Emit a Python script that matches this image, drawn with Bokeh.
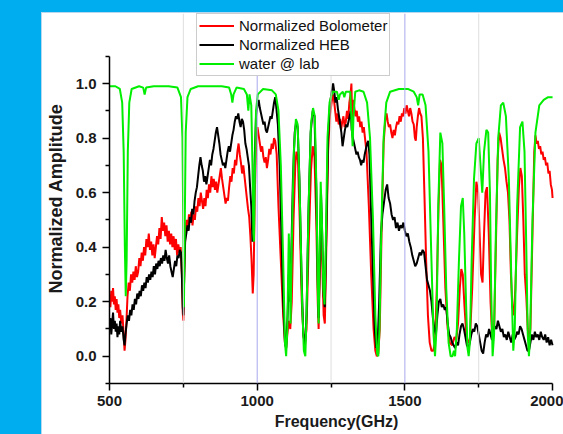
from bokeh.plotting import figure
from bokeh.models import Range1d, FixedTicker, NumeralTickFormatter, Span, Legend, LegendItem, Spacer
from bokeh.layouts import column, row
from bokeh.embed import file_html
from bokeh.resources import INLINE

# ---------------- data ----------------
water_freq = [500, 520, 535, 543, 548, 552, 555, 558, 562, 567, 575, 600, 614, 619, 624, 650, 700, 730,
              742, 747, 750, 752, 754, 758, 764, 775, 800, 880, 905, 912, 916, 920, 930, 955, 965, 970,
              974, 980, 984, 987, 989, 992, 996, 1002, 1020, 1050, 1063, 1072, 1080, 1088, 1094, 1098,
              1102, 1107, 1110, 1113, 1117, 1124, 1131, 1137, 1144, 1152, 1158, 1163, 1167, 1174, 1182,
              1189, 1195, 1201, 1205, 1208, 1211, 1215, 1219, 1224, 1228, 1232, 1238, 1245, 1255, 1270,
              1276, 1280, 1290, 1295, 1300, 1315, 1320, 1323, 1326, 1332, 1345, 1360, 1372, 1382, 1392,
              1400, 1406, 1410, 1414, 1420, 1428, 1437, 1450, 1480, 1510, 1530, 1540, 1545, 1550, 1560,
              1570, 1580, 1590, 1597, 1602, 1607, 1613, 1620, 1627, 1633, 1640, 1648, 1655, 1661, 1666,
              1670, 1676, 1683, 1690, 1696, 1701, 1707, 1712, 1716, 1720, 1726, 1734, 1742, 1750, 1756,
              1762, 1768, 1776, 1782, 1788, 1792, 1797, 1802, 1808, 1816, 1825, 1833, 1842, 1852, 1860,
              1867, 1872, 1880, 1890, 1898, 1905, 1911, 1916, 1920, 1924, 1932, 1942, 1955, 1970, 1985,
              1995, 2000]
water_amp = [0.99, 0.99, 0.98, 0.93, 0.75, 0.40, 0.22, 0.35, 0.75, 0.93, 0.98, 0.99, 0.985, 0.96, 0.985, 0.99, 0.99, 0.985,
             0.95, 0.80, 0.45, 0.18, 0.40, 0.82, 0.95, 0.98, 0.99, 0.99, 0.985, 0.96, 0.93, 0.96, 0.985, 0.98, 0.96, 0.90,
             0.96, 0.92, 0.70, 0.45, 0.42, 0.65, 0.90, 0.96, 0.98, 0.975, 0.96, 0.90, 0.70, 0.35, 0.05, 0.00,
             0.10, 0.45, 0.30, 0.12, 0.40, 0.75, 0.87, 0.85, 0.60, 0.20, 0.02, 0.00, 0.15, 0.55, 0.85,
             0.91, 0.88, 0.60, 0.25, 0.12, 0.35, 0.64, 0.50, 0.25, 0.19, 0.40, 0.80, 0.93, 0.97, 0.97,
             0.94, 0.96, 0.97, 0.95, 0.97, 0.97, 0.85, 0.77, 0.88, 0.97, 0.975, 0.97, 0.93, 0.80, 0.50,
             0.15, 0.01, 0.00, 0.10, 0.45, 0.80, 0.93, 0.97, 0.98, 0.98, 0.97, 0.95, 0.92, 0.96, 0.96,
             0.92, 0.75, 0.35, 0.08, 0.00, 0.10, 0.55, 0.82, 0.78, 0.55, 0.25, 0.05, 0.00, 0.00, 0.02,
             0.00, 0.10, 0.35, 0.55, 0.58, 0.45, 0.20, 0.03, 0.00, 0.05, 0.35, 0.65, 0.78, 0.80, 0.70,
             0.60, 0.75, 0.83, 0.82, 0.60, 0.25, 0.00, 0.08, 0.45, 0.80, 0.92, 0.93, 0.88, 0.65, 0.30,
             0.02, 0.10, 0.55, 0.84, 0.86, 0.75, 0.40, 0.08, 0.00, 0.08, 0.50, 0.82, 0.92, 0.94, 0.95,
             0.95, 0.95]

bolo_freq = [500, 503, 506, 509, 512, 515, 518, 521, 524, 527, 530, 533, 536, 540, 544, 548, 551, 554, 557, 561,
             565, 569, 573, 577, 581, 585, 589, 593, 597, 601, 605, 609, 613, 617, 621, 625, 629, 633, 637, 641,
             645, 649, 653, 657, 661, 665, 669, 673, 677, 681, 685, 689, 693, 697, 701, 705, 709, 713, 717, 721,
             725, 729, 733, 737, 741, 745, 748, 750, 753, 757, 761, 765, 769, 773, 777, 781, 785, 789, 793, 797,
             801, 805, 809, 813, 817, 821, 825, 829, 833, 837, 841, 845, 849, 853, 857, 861, 865, 869, 873, 877,
             881, 885, 889, 893, 897, 901, 905, 909, 913, 917, 921, 925, 929, 933, 937, 941, 945, 949, 953, 957,
             961, 965, 969, 973, 977, 981, 985, 988, 992, 997, 1001, 1005, 1009, 1013, 1017, 1021, 1025, 1029, 1033, 1037,
             1041, 1045, 1049, 1053, 1057, 1061, 1066, 1072, 1080, 1088, 1094, 1098, 1102, 1107, 1112, 1117, 1123, 1129, 1133, 1138,
             1144, 1151, 1157, 1162, 1167, 1174, 1182, 1188, 1194, 1200, 1205, 1208, 1212, 1216, 1220, 1225, 1229, 1234, 1240, 1246,
             1252, 1256, 1260, 1264, 1268, 1272, 1276, 1280, 1284, 1288, 1292, 1296, 1300, 1304, 1308, 1312, 1316, 1319, 1322, 1325,
             1329, 1333, 1337, 1341, 1345, 1349, 1353, 1357, 1361, 1365, 1370, 1378, 1386, 1394, 1400, 1405, 1410, 1415, 1421, 1428,
             1434, 1438, 1442, 1446, 1450, 1454, 1458, 1462, 1466, 1470, 1474, 1478, 1482, 1486, 1490, 1494, 1498, 1502, 1506, 1510,
             1514, 1518, 1522, 1526, 1530, 1534, 1537, 1540, 1544, 1548, 1552, 1556, 1561, 1566, 1572, 1578, 1584, 1590, 1596, 1602,
             1608, 1614, 1619, 1624, 1630, 1637, 1645, 1652, 1660, 1668, 1674, 1680, 1686, 1691, 1696, 1702, 1708, 1714, 1720, 1728,
             1736, 1742, 1748, 1753, 1758, 1763, 1768, 1773, 1778, 1784, 1790, 1796, 1802, 1808, 1814, 1819, 1824, 1829, 1834, 1839,
             1844, 1849, 1854, 1859, 1864, 1869, 1874, 1880, 1886, 1891, 1896, 1901, 1906, 1911, 1916, 1920, 1925, 1932, 1938, 1942,
             1946, 1950, 1954, 1958, 1962, 1966, 1970, 1974, 1978, 1982, 1986, 1990, 1994, 1998, 2000]
bolo_amp = [0.22, 0.18, 0.24, 0.20, 0.25, 0.19, 0.22, 0.17, 0.21, 0.16, 0.19, 0.14, 0.17, 0.12, 0.15, 0.08, 0.02, 0.06, 0.12, 0.22,
            0.27, 0.24, 0.30, 0.27, 0.31, 0.28, 0.33, 0.29, 0.31, 0.36, 0.33, 0.38, 0.35, 0.40, 0.37, 0.43, 0.40, 0.45, 0.39, 0.42,
            0.37, 0.41, 0.36, 0.40, 0.44, 0.41, 0.47, 0.43, 0.51, 0.46, 0.49, 0.44, 0.48, 0.42, 0.46, 0.41, 0.45, 0.40, 0.44, 0.39,
            0.43, 0.37, 0.41, 0.38, 0.40, 0.30, 0.16, 0.13, 0.30, 0.47, 0.50, 0.46, 0.52, 0.49, 0.53, 0.48, 0.52, 0.50, 0.55, 0.53,
            0.58, 0.55, 0.60, 0.57, 0.54, 0.58, 0.55, 0.61, 0.58, 0.63, 0.60, 0.66, 0.62, 0.65, 0.61, 0.64, 0.60, 0.63, 0.66, 0.69,
            0.65, 0.62, 0.59, 0.56, 0.58, 0.57, 0.62, 0.66, 0.64, 0.69, 0.67, 0.72, 0.70, 0.75, 0.78, 0.74, 0.71, 0.67, 0.70, 0.66,
            0.62, 0.58, 0.54, 0.51, 0.44, 0.35, 0.23, 0.30, 0.60, 0.80, 0.84, 0.81, 0.78, 0.75, 0.77, 0.73, 0.71, 0.73, 0.69, 0.72,
            0.76, 0.74, 0.78, 0.76, 0.80, 0.79, 0.74, 0.55, 0.35, 0.15, 0.05, 0.03, 0.08, 0.13, 0.10, 0.20, 0.50, 0.70, 0.75, 0.72,
            0.50, 0.20, 0.07, 0.05, 0.10, 0.40, 0.68, 0.77, 0.73, 0.50, 0.20, 0.10, 0.30, 0.50, 0.35, 0.15, 0.12, 0.40, 0.75, 0.88,
            0.93, 0.96, 0.94, 0.90, 0.86, 0.89, 0.85, 0.87, 0.83, 0.86, 0.88, 0.84, 0.86, 0.90, 0.87, 0.93, 0.96, 1.00, 0.85, 0.94,
            0.91, 0.88, 0.90, 0.86, 0.88, 0.84, 0.86, 0.82, 0.84, 0.80, 0.75, 0.55, 0.30, 0.10, 0.02, 0.00, 0.01, 0.10, 0.45, 0.78,
            0.87, 0.89, 0.86, 0.84, 0.85, 0.82, 0.80, 0.83, 0.81, 0.84, 0.86, 0.85, 0.88, 0.86, 0.89, 0.88, 0.91, 0.89, 0.92, 0.90,
            0.88, 0.91, 0.89, 0.86, 0.85, 0.80, 0.79, 0.84, 0.88, 0.91, 0.89, 0.88, 0.80, 0.60, 0.35, 0.15, 0.05, 0.02, 0.02, 0.05,
            0.25, 0.55, 0.72, 0.70, 0.50, 0.25, 0.10, 0.05, 0.04, 0.07, 0.06, 0.12, 0.25, 0.32, 0.30, 0.18, 0.08, 0.05, 0.06, 0.25,
            0.50, 0.64, 0.60, 0.45, 0.30, 0.27, 0.45, 0.60, 0.62, 0.45, 0.20, 0.06, 0.10, 0.40, 0.72, 0.82, 0.80, 0.76, 0.72, 0.69,
            0.64, 0.60, 0.50, 0.30, 0.18, 0.15, 0.25, 0.45, 0.62, 0.69, 0.66, 0.50, 0.30, 0.22, 0.10, 0.05, 0.10, 0.45, 0.75, 0.81,
            0.78, 0.79, 0.76, 0.77, 0.74, 0.75, 0.72, 0.73, 0.70, 0.71, 0.67, 0.68, 0.63, 0.61, 0.58]

heb_freq = [500, 503, 506, 509, 512, 515, 518, 521, 524, 527, 530, 533, 536, 540, 544, 548, 551, 554, 558, 562,
            566, 570, 574, 578, 582, 586, 590, 594, 598, 602, 606, 610, 614, 618, 622, 626, 630, 634, 638, 642,
            646, 650, 654, 658, 662, 666, 670, 674, 678, 682, 686, 690, 694, 698, 702, 706, 710, 714, 718, 722,
            726, 730, 734, 738, 742, 745, 748, 750, 753, 756, 760, 764, 768, 772, 776, 780, 784, 788, 792, 796,
            800, 804, 808, 812, 816, 820, 824, 828, 832, 836, 840, 844, 848, 852, 856, 860, 864, 868, 872, 876,
            880, 884, 888, 892, 896, 900, 904, 908, 912, 916, 920, 924, 928, 932, 936, 940, 944, 948, 952, 956,
            960, 964, 968, 972, 976, 980, 984, 987, 991, 996, 1001, 1005, 1009, 1013, 1017, 1021, 1025, 1029, 1033, 1037,
            1041, 1045, 1049, 1053, 1057, 1061, 1065, 1070, 1076, 1082, 1088, 1094, 1098, 1103, 1107, 1111, 1115, 1121, 1127, 1132,
            1137, 1143, 1150, 1156, 1162, 1167, 1173, 1181, 1188, 1194, 1200, 1205, 1208, 1212, 1216, 1220, 1225, 1229, 1234, 1240,
            1246, 1252, 1257, 1261, 1265, 1269, 1273, 1277, 1281, 1285, 1289, 1293, 1297, 1301, 1305, 1309, 1313, 1317, 1320, 1324,
            1328, 1332, 1336, 1340, 1344, 1348, 1352, 1356, 1360, 1364, 1368, 1372, 1376, 1380, 1385, 1392, 1398, 1403, 1408, 1413,
            1419, 1424, 1430, 1435, 1440, 1445, 1450, 1455, 1460, 1465, 1470, 1475, 1480, 1485, 1490, 1495, 1500, 1505, 1510, 1515,
            1520, 1525, 1530, 1535, 1540, 1545, 1550, 1555, 1560, 1565, 1570, 1575, 1580, 1585, 1590, 1595, 1600, 1605, 1610, 1615,
            1620, 1625, 1630, 1635, 1640, 1645, 1650, 1655, 1660, 1665, 1670, 1675, 1680, 1685, 1690, 1695, 1700, 1705, 1710, 1715,
            1720, 1725, 1730, 1735, 1740, 1745, 1750, 1755, 1760, 1765, 1770, 1775, 1780, 1785, 1790, 1795, 1800, 1805, 1810, 1815,
            1820, 1825, 1830, 1835, 1840, 1845, 1850, 1855, 1860, 1865, 1870, 1875, 1880, 1885, 1890, 1895, 1900, 1905, 1910, 1915,
            1920, 1925, 1930, 1935, 1940, 1945, 1950, 1955, 1960, 1965, 1970, 1975, 1980, 1985, 1990, 1995, 2000]
heb_amp = [0.10, 0.14, 0.08, 0.12, 0.16, 0.10, 0.13, 0.09, 0.12, 0.07, 0.11, 0.08, 0.13, 0.09, 0.11, 0.06, 0.04, 0.08, 0.12, 0.15,
           0.13, 0.17, 0.15, 0.19, 0.17, 0.21, 0.19, 0.23, 0.21, 0.24, 0.22, 0.26, 0.24, 0.27, 0.25, 0.29, 0.27, 0.30, 0.28, 0.31,
           0.29, 0.33, 0.30, 0.34, 0.32, 0.35, 0.33, 0.36, 0.34, 0.37, 0.35, 0.39, 0.36, 0.34, 0.37, 0.33, 0.31, 0.29, 0.32, 0.35,
           0.33, 0.37, 0.36, 0.39, 0.38, 0.30, 0.18, 0.15, 0.30, 0.42, 0.45, 0.48, 0.46, 0.51, 0.49, 0.54, 0.52, 0.57, 0.60, 0.62,
           0.66, 0.70, 0.73, 0.70, 0.68, 0.64, 0.66, 0.63, 0.66, 0.69, 0.72, 0.70, 0.74, 0.76, 0.79, 0.82, 0.84, 0.81, 0.78, 0.74,
           0.72, 0.70, 0.71, 0.69, 0.72, 0.75, 0.77, 0.75, 0.78, 0.81, 0.83, 0.86, 0.88, 0.87, 0.89, 0.86, 0.84, 0.87, 0.86, 0.83,
           0.78, 0.76, 0.73, 0.70, 0.62, 0.55, 0.42, 0.45, 0.70, 0.88, 0.92, 0.94, 0.91, 0.89, 0.87, 0.85, 0.86, 0.83, 0.82, 0.84,
           0.86, 0.88, 0.87, 0.90, 0.93, 0.95, 0.91, 0.85, 0.70, 0.45, 0.20, 0.05, 0.03, 0.15, 0.30, 0.20, 0.35, 0.65, 0.82, 0.86,
           0.84, 0.65, 0.30, 0.08, 0.04, 0.15, 0.50, 0.82, 0.90, 0.88, 0.62, 0.28, 0.14, 0.35, 0.60, 0.45, 0.22, 0.18, 0.45, 0.80,
           0.92, 0.97, 1.00, 0.97, 0.93, 0.95, 0.91, 0.88, 0.85, 0.82, 0.77, 0.80, 0.83, 0.85, 0.84, 0.86, 0.88, 0.90, 0.83, 0.80,
           0.78, 0.76, 0.74, 0.75, 0.73, 0.72, 0.70, 0.72, 0.71, 0.74, 0.76, 0.78, 0.79, 0.74, 0.55, 0.30, 0.10, 0.03, 0.05, 0.20,
           0.45, 0.52, 0.57, 0.61, 0.63, 0.58, 0.56, 0.52, 0.50, 0.51, 0.47, 0.49, 0.46, 0.48, 0.47, 0.49, 0.46, 0.44, 0.45, 0.42,
           0.40, 0.37, 0.35, 0.33, 0.34, 0.36, 0.38, 0.37, 0.39, 0.38, 0.33, 0.28, 0.26, 0.24, 0.20, 0.14, 0.10, 0.08, 0.15, 0.20,
           0.21, 0.18, 0.19, 0.17, 0.18, 0.12, 0.08, 0.07, 0.05, 0.04, 0.03, 0.05, 0.04, 0.08, 0.11, 0.12, 0.10, 0.07, 0.04, 0.03,
           0.05, 0.08, 0.10, 0.09, 0.12, 0.11, 0.08, 0.05, 0.02, 0.01, 0.05, 0.08, 0.07, 0.10, 0.08, 0.06, 0.09, 0.11, 0.10, 0.13,
           0.11, 0.09, 0.10, 0.07, 0.08, 0.06, 0.09, 0.07, 0.05, 0.08, 0.06, 0.07, 0.09, 0.08, 0.11, 0.10, 0.08, 0.06, 0.04, 0.02,
           0.02, 0.05, 0.08, 0.06, 0.09, 0.07, 0.08, 0.06, 0.09, 0.07, 0.06, 0.08, 0.05, 0.07, 0.04, 0.06, 0.04]

x_major = [500, 1000, 1500, 2000]
x_minor = [750, 1250, 1750]
y_major = [0.0, 0.2, 0.4, 0.6, 0.8, 1.0]
y_minor = [-0.1, 0.1, 0.3, 0.5, 0.7, 0.9, 1.1]
series_labels = ["Normalized Bolometer", "Normalized HEB", "water @ lab"]

# ---------------- figure ----------------
FONT = "Liberation Sans"
BLUE = "#00AEEF"

p = figure(width=521, height=421,
           x_range=Range1d(500, 2037), y_range=Range1d(-0.1, 1.2567),
           output_backend="svg", toolbar_location=None,
           min_border_left=66, min_border_right=0, min_border_top=0, min_border_bottom=51)
p.outline_line_color = None
p.grid.visible = False
p.background_fill_color = "white"
p.border_fill_color = "white"

for f in x_minor:
    p.add_layout(Span(location=f, dimension="height", line_color="#dedede", line_width=1))
for f in x_major[1:3]:
    p.add_layout(Span(location=f, dimension="height", line_color="#a8a8ee", line_width=1))

r_bolo = p.line(bolo_freq, bolo_amp, line_color="#ff0000", line_width=2)
r_heb = p.line(heb_freq, heb_amp, line_color="#000000", line_width=2)
r_water = p.line(water_freq, water_amp, line_color="#00ee00", line_width=2)

legend = Legend(items=[LegendItem(label=series_labels[0], renderers=[r_bolo]),
                       LegendItem(label=series_labels[1], renderers=[r_heb]),
                       LegendItem(label=series_labels[2], renderers=[r_water])],
                location=(87, 307))
legend.label_text_font = FONT
legend.label_text_font_size = "15px"
legend.label_text_color = "#111111"
legend.glyph_width = 35
legend.glyph_height = 19
legend.label_height = 19
legend.label_standoff = 5
legend.padding = 2
legend.spacing = 0
legend.margin = 0
legend.border_line_color = "#9a9a9a"
legend.border_line_width = 1
legend.background_fill_alpha = 1.0
p.add_layout(legend)

xa = p.xaxis[0]
xa.ticker = FixedTicker(ticks=x_major, minor_ticks=x_minor)
xa.bounds = (500, 2000)
xa.axis_label = "Frequency(GHz)"

ya = p.yaxis[0]
ya.ticker = FixedTicker(ticks=y_major, minor_ticks=y_minor)
ya.bounds = (-0.1, 1.1)
ya.formatter = NumeralTickFormatter(format="0.0")
ya.axis_label = "Normalized Amplitude"

for ax in (xa, ya):
    ax.axis_line_width = 1.5
    ax.axis_line_color = "black"
    ax.major_tick_line_width = 1.5
    ax.minor_tick_line_width = 1.5
    ax.major_tick_out = 7
    ax.major_tick_in = 0
    ax.minor_tick_out = 4
    ax.minor_tick_in = 0
    ax.major_label_text_font = FONT
    ax.major_label_text_font_style = "bold"
    ax.major_label_text_font_size = "15px"
    ax.major_label_text_color = "#1a1a1a"
    ax.axis_label_text_font = FONT
    ax.axis_label_text_font_style = "bold"
    ax.axis_label_text_font_size = "16px"
    ax.axis_label_text_color = "#1a1a1a"

ya.axis_label_text_font_size = "18px"
xa.major_label_standoff = 5
xa.axis_label_standoff = 4
ya.major_label_standoff = 6
ya.axis_label_standoff = 7

# ---------------- blue frame around the white card ----------------
top_band = Spacer(width=563, height=12, styles={"background-color": BLUE})
left_band = Spacer(width=41, height=422, styles={"background-color": BLUE})
left_edge = Spacer(width=1, height=422, styles={"background-color": "#b9d6ef"})
top_edge = Spacer(width=521, height=1, styles={"background-color": "#b9d6ef"})

root = column(top_band, row(left_band, left_edge, column(top_edge, p, spacing=0), spacing=0), spacing=0)

open("out.html", "w").write(file_html(root, INLINE))
